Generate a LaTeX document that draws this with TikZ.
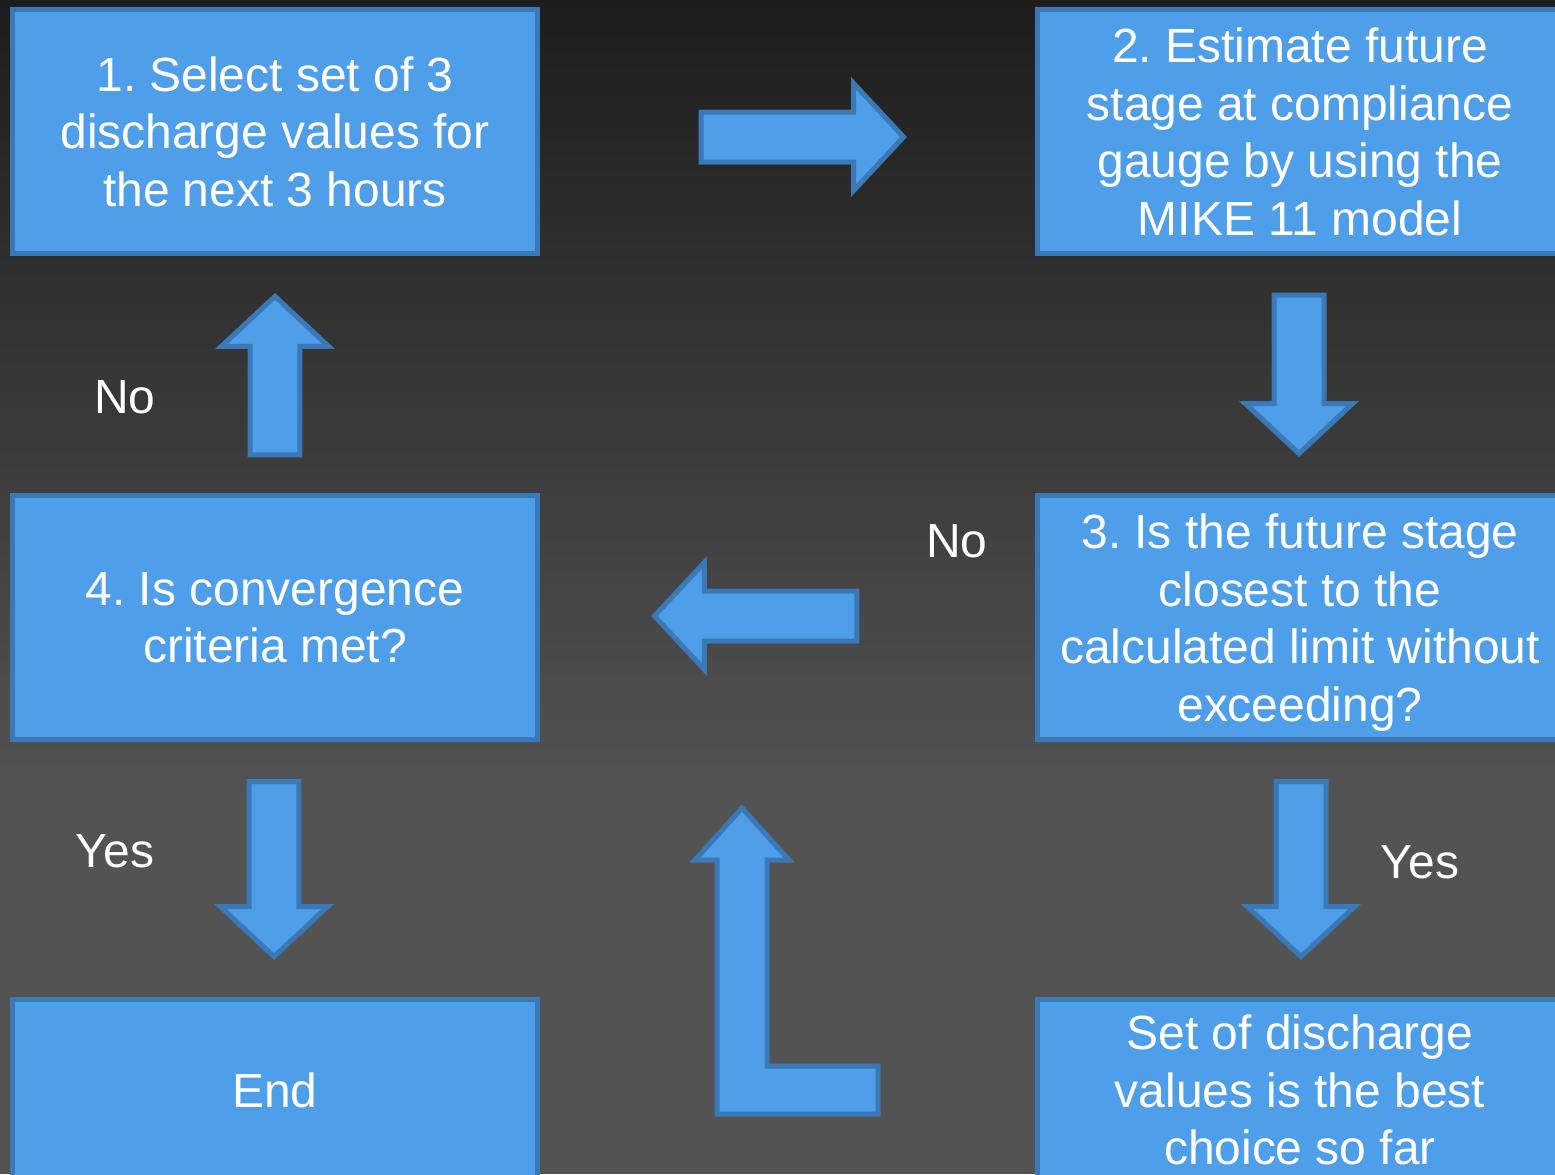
\documentclass[tikz,border=0pt]{standalone}
\usepackage{fontspec}
\setmainfont{Liberation Sans}
\usetikzlibrary{shapes.arrows}
\definecolor{boxfill}{HTML}{4F9EEA}
\definecolor{boxline}{HTML}{3A78B6}
\definecolor{bgtop}{HTML}{1D1D1D}
\definecolor{bgbot}{HTML}{535353}
\frenchspacing

\begin{document}
\begin{tikzpicture}[x=0.02cm,y=-0.02cm,
    stage box/.style={draw=boxline,fill=boxfill,line width=0.1cm,minimum width=10.5cm,minimum height=4.88cm,inner sep=0pt,text depth=0pt,text=white,align=center,font=\fontsize{27.3}{32.7}\selectfont},
    big arrow/.style={single arrow,draw=boxline,fill=boxfill,line width=0.1cm,inner sep=0.45cm,single arrow head extend=0.57cm,single arrow tip angle=94,anchor=tip},
    answer/.style={text=white,font=\fontsize{27.3}{32.7}\selectfont}]
    \useasboundingbox (0,0) rectangle (1555,1174);
    \clip (0,0) rectangle (1555,1174);
    % background
    \fill[top color=bgtop,bottom color=bgbot] (0,0) rectangle (1555,800);
    \fill[bgbot] (0,799) rectangle (1555,1174);

    % boxes
    \node[stage box] (select) at (275,131.5) {1. Select set of 3\\discharge values for\\the next 3 hours};
    \node[stage box] (estimate) at (1300,131.5) {2. Estimate future\\stage at compliance\\gauge by using the\\MIKE 11 model};
    \node[stage box] (closest) at (1300,617.5) {3. Is the future stage\\closest to the\\calculated limit without\\exceeding?};
    \node[stage box] (converge) at (275,617.5) {4. Is convergence\\criteria met?};
    \node[stage box,minimum height=3.62cm] (end) at (275,1090) {End};
    \node[stage box,minimum height=3.62cm] (best) at (1300,1090) {Set of discharge\\values is the best\\choice so far};

    % block arrows (placed by their tips)
    \node[big arrow,minimum height=4.05cm] (a12) at (907,137) {};
    \node[big arrow,shape border rotate=270,minimum height=3.17cm] (a23) at (1299,457) {};
    \node[big arrow,shape border rotate=180,minimum height=4.05cm] (a34) at (651,616) {};
    \node[big arrow,shape border rotate=90,minimum height=3.17cm] (a41) at (275,293) {};
    \node[big arrow,shape border rotate=270,minimum height=3.5cm] (a4e) at (274,960) {};
    \node[big arrow,shape border rotate=270,minimum height=3.5cm] (a3s) at (1301,960) {};
    \draw[boxline,fill=boxfill,line width=0.1cm] (717,1114) -- (717,860) -- (695,860) -- (742,808)
        -- (789,860) -- (767,860) -- (767,1066) -- (878,1066) -- (878,1114) -- cycle;

    % answers
    \node[answer] (no1) at (125,397) {No};
    \node[answer] (no3) at (957,541) {No};
    \node[answer] (yes4) at (115,851) {Yes};
    \node[answer] (yes3) at (1420,862) {Yes};
\end{tikzpicture}
\end{document}
